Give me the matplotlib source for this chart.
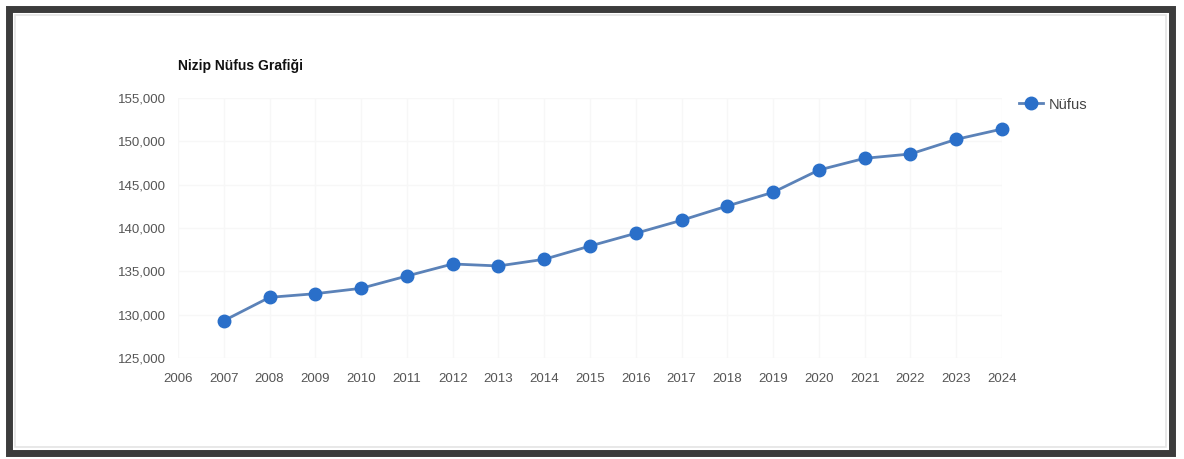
import matplotlib.pyplot as plt
from matplotlib.patches import Rectangle

years = list(range(2007, 2025))
population = [129300, 132000, 132420, 133040, 134460, 135850, 135620, 136390,
              137920, 139390, 140890, 142540, 144120, 146690, 148040, 148540,
              150230, 151420]
x_ticks = list(range(2006, 2025))
y_ticks = [125000, 130000, 135000, 140000, 145000, 150000, 155000]

plt.rcParams['font.family'] = ['Liberation Sans', 'DejaVu Sans']

fig = plt.figure(figsize=(11.84, 4.59), dpi=100)
fig.patch.set_facecolor("white")

# dark frame around the chart, plus a faint inner line
fig.patches.append(Rectangle((9 / 1184, 6 / 459), 1163 / 1184, 444 / 459,
                             transform=fig.transFigure, fill=False,
                             edgecolor="#3c3c3c", linewidth=5))
fig.patches.append(Rectangle((15 / 1184, 12 / 459), 1151 / 1184, 432 / 459,
                             transform=fig.transFigure, fill=False,
                             edgecolor="#e4e4e4", linewidth=1.2))

ax = fig.add_axes([178 / 1184, 1 - 358 / 459, 824 / 1184, 260 / 459])
ax.plot(years, population, color="#5b82b8", linewidth=2, marker="o",
        markersize=9, markerfacecolor="#2a6fc9", markeredgecolor="#2a6fc9",
        label="Nüfus", clip_on=False)

ax.set_xlim(2006, 2024)
ax.set_ylim(125000, 155000)
ax.set_xticks(x_ticks)
ax.set_yticks(y_ticks)
ax.set_yticklabels([f"{v:,}" for v in y_ticks])
ax.tick_params(length=0, colors="#555555", labelsize=9.5)
ax.tick_params(axis="y", pad=9)
ax.tick_params(axis="x", pad=11)
for s in ax.spines.values():
    s.set_visible(False)
ax.grid(True, color="#f7f7f7", linewidth=1)
ax.set_axisbelow(True)

fig.text(178 / 1184, 1 - 66 / 459, "Nizip Nüfus Grafiği", fontsize=10,
         fontweight="bold", color="#111111", va="center")

ax.legend(loc="center left", bbox_to_anchor=(1.005, 0.975), frameon=False,
          fontsize=10.5, handlelength=1.6, handletextpad=0.4, labelcolor="#444444")

fig.savefig("out.png", dpi=100)
